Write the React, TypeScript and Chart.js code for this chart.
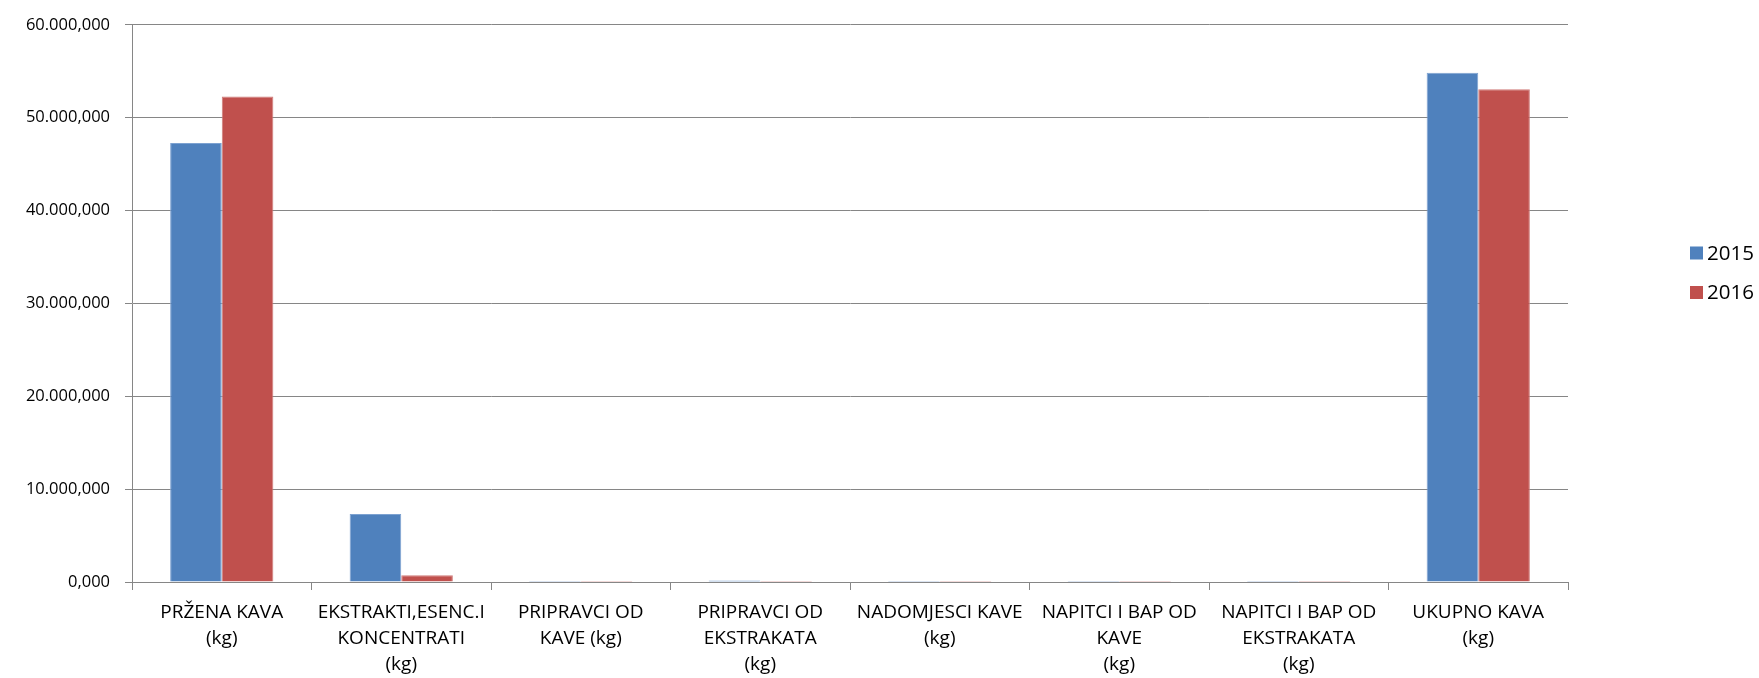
import React, { useEffect, useRef } from "react";
import { Chart, registerables } from "chart.js";

Chart.register(...registerables);

const categories: string[][] = [
  ["PRŽENA KAVA", "(kg)"],
  ["EKSTRAKTI,ESENC.I", "KONCENTRATI", "(kg)"],
  ["PRIPRAVCI OD", "KAVE (kg)"],
  ["PRIPRAVCI OD", "EKSTRAKATA", "(kg)"],
  ["NADOMJESCI KAVE", "(kg)"],
  ["NAPITCI I BAP OD", "KAVE", "(kg)"],
  ["NAPITCI I BAP OD", "EKSTRAKATA", "(kg)"],
  ["UKUPNO KAVA", "(kg)"],
];

const seriesLabels = ["2015", "2016"];
const values2015 = [47290, 7330, 10, 150, 2, 5, 5, 54850];
const values2016 = [52280, 720, 8, 10, 1, 4, 4, 53070];
const seriesColors = ["#4F81BD", "#C0504D"];
const seriesBorders = ["#7DA2D1", "#CF7B79"];

const yMin = 0;
const yMax = 60000;
const yStep = 10000;

const FONT = '"Open Sans", "DejaVu Sans", sans-serif';

function formatTick(v: number): string {
  const s = Math.round(v).toString().replace(/\B(?=(\d{3})+(?!\d))/g, ".");
  return s + ",000";
}

const sideLegend = {
  id: "sideLegend",
  afterDraw(chart: any) {
    const ctx = chart.ctx as CanvasRenderingContext2D;
    ctx.save();
    chart.data.datasets.forEach((ds: any, i: number) => {
      const cy = 253 + i * 39.5;
      ctx.fillStyle = ds.backgroundColor;
      ctx.fillRect(1690, cy - 6.5, 13, 13);
      ctx.fillStyle = "#000";
      ctx.font = `20.5px ${FONT}`;
      ctx.textBaseline = "middle";
      ctx.textAlign = "left";
      ctx.fillText(ds.label, 1707, cy + 1);
    });
    ctx.restore();
  },
};

export default function App() {
  const ref = useRef<HTMLCanvasElement | null>(null);

  useEffect(() => {
    if (!ref.current) return;
    const chart = new Chart(ref.current, {
      type: "bar",
      data: {
        labels: categories,
        datasets: [
          {
            label: seriesLabels[0],
            data: values2015,
            backgroundColor: seriesColors[0],
            borderColor: seriesBorders[0],
            borderWidth: 1,
            categoryPercentage: 0.575,
            barPercentage: 1,
          },
          {
            label: seriesLabels[1],
            data: values2016,
            backgroundColor: seriesColors[1],
            borderColor: seriesBorders[1],
            borderWidth: 1,
            categoryPercentage: 0.575,
            barPercentage: 1,
          },
        ],
      },
      options: {
        responsive: false,
        animation: false,
        layout: { padding: { left: 0, right: 191, top: 15, bottom: 0 } },
        plugins: {
          legend: { display: false },
          tooltip: { enabled: false },
        },
        scales: {
          x: {
            grid: {
              display: true,
              drawOnChartArea: false,
              drawTicks: true,
              tickLength: 8,
              color: "#868686",
              offset: true,
            },
            border: { display: true, color: "#868686", width: 1 },
            ticks: {
              color: "#000",
              padding: 9,
              maxRotation: 0,
              autoSkip: false,
              font: { family: FONT, size: 19, lineHeight: 1.39 },
            },
            afterFit: (scale: any) => {
              scale.height = 96;
            },
          },
          y: {
            min: yMin,
            max: yMax,
            grid: {
              color: "#868686",
              lineWidth: 1,
              tickLength: 7,
            },
            border: { display: true, color: "#868686", width: 1 },
            ticks: {
              stepSize: yStep,
              color: "#000",
              padding: 15,
              font: { family: FONT, size: 16.5 },
              callback: (v: any) => formatTick(Number(v)),
            },
            afterFit: (scale: any) => {
              scale.width = 132;
            },
          },
        },
      },
      plugins: [sideLegend],
    });
    return () => chart.destroy();
  }, []);

  return (
    <div style={{ position: "absolute", left: 0, top: 0, width: 1759, height: 678, background: "#fff" }}>
      <canvas ref={ref} width={1759} height={678} style={{ display: "block" }} />
    </div>
  );
}
